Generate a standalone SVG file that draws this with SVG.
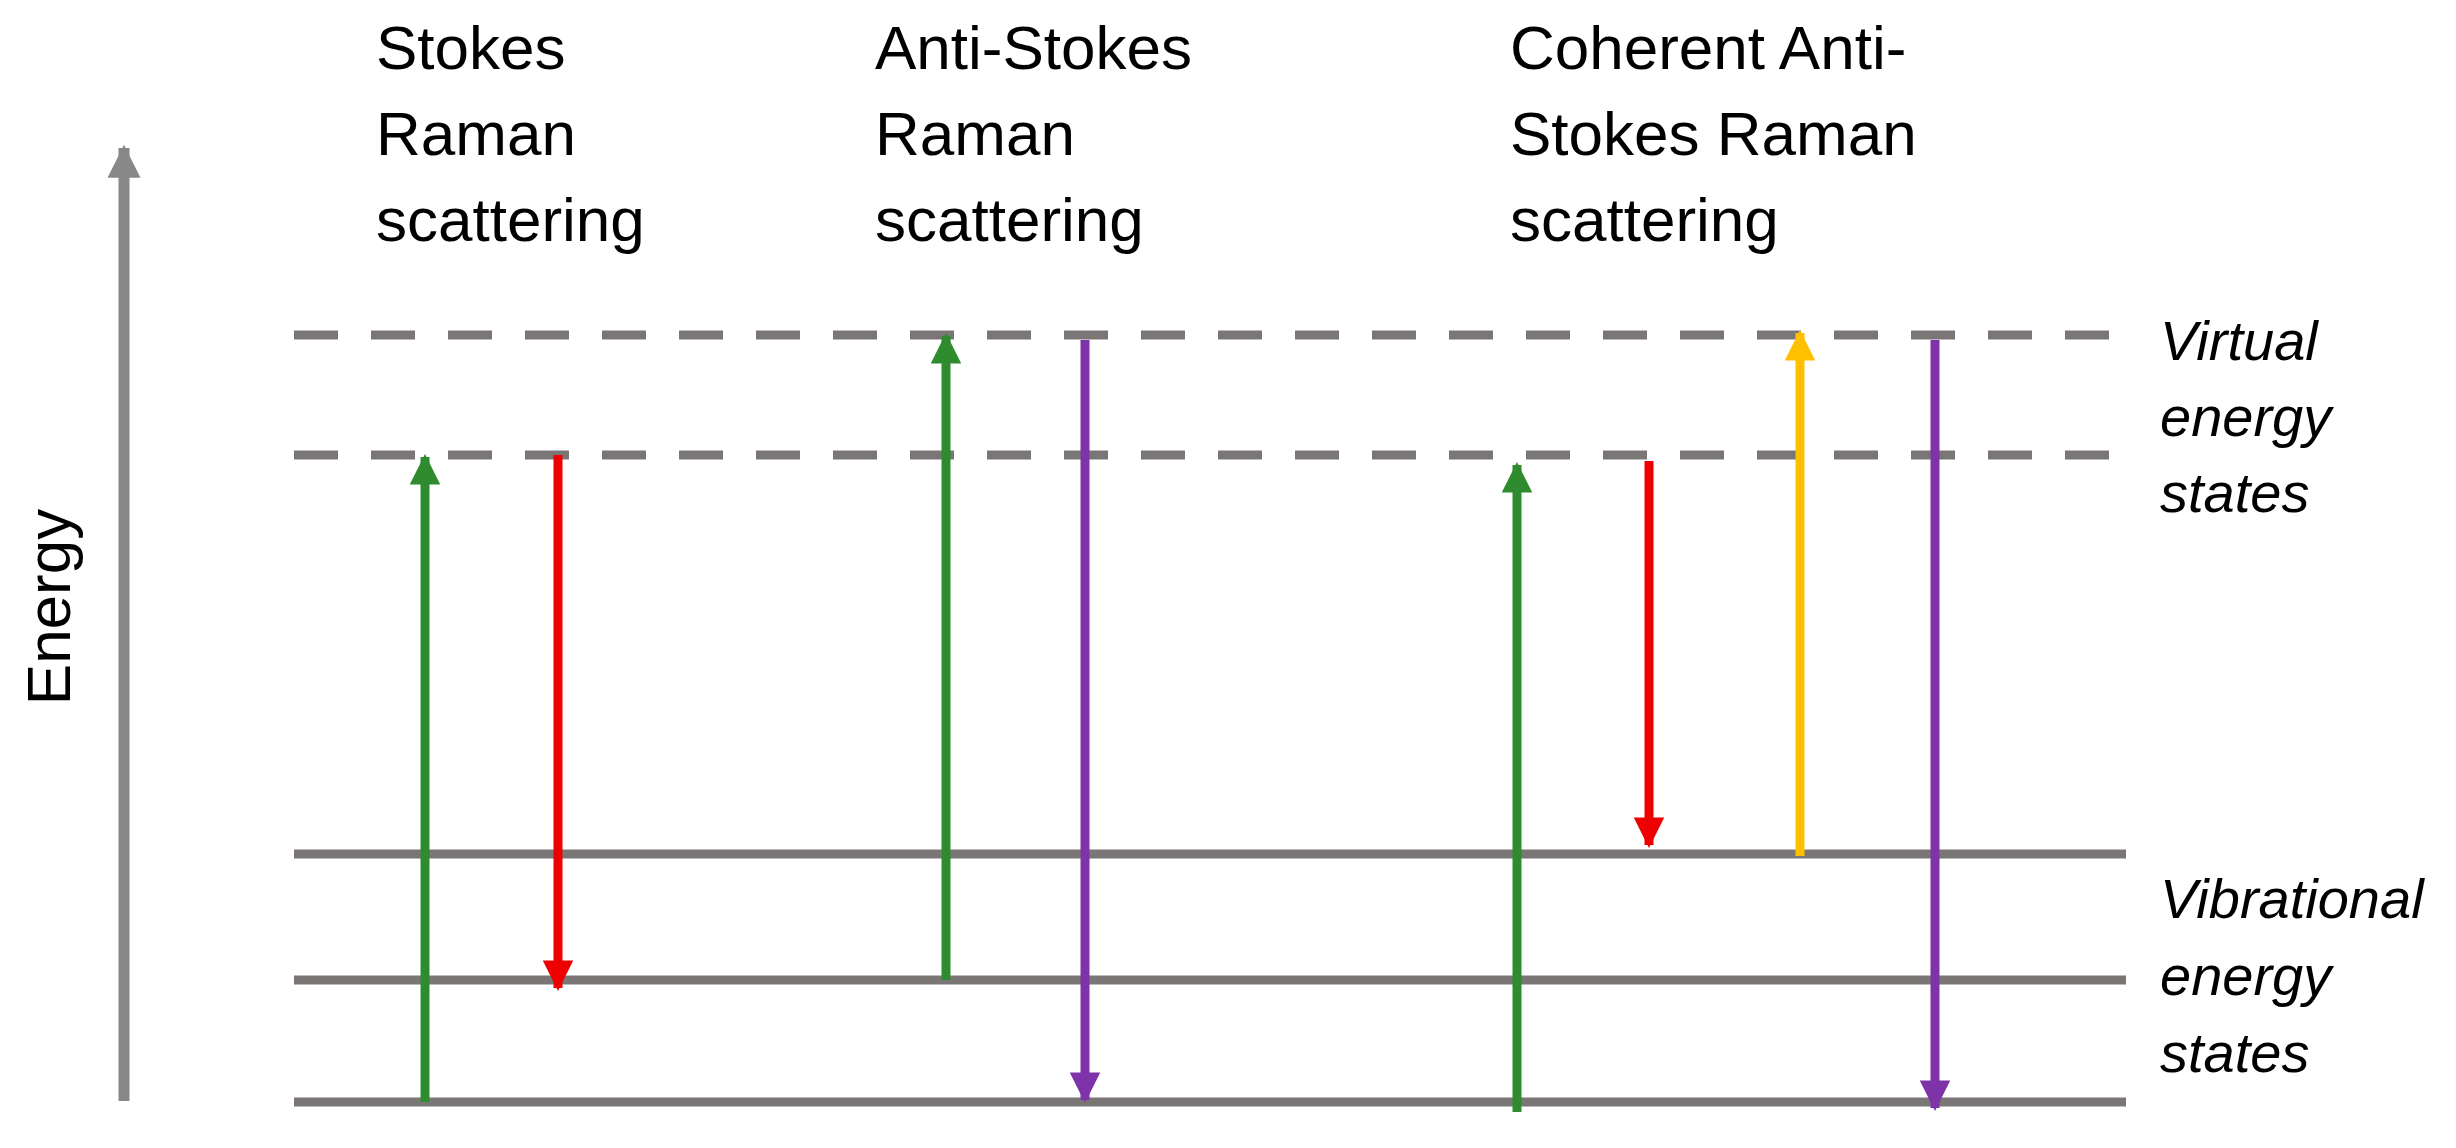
<svg xmlns="http://www.w3.org/2000/svg" width="2456" height="1148" viewBox="0 0 2456 1148">
<style>
.t{font-family:"Liberation Sans",Arial,sans-serif;font-size:62px;fill:#000}
.i{font-family:"Liberation Sans",Arial,sans-serif;font-size:56px;font-style:italic;fill:#000}
.lv{stroke:#7b7676;stroke-width:9;fill:none}
.dash{stroke-dasharray:44 33}
.a{stroke-width:9;fill:none}
</style>
<defs>
<marker id="mg" viewBox="0 0 10 10" refX="9" refY="5" markerWidth="3.4" markerHeight="3.4" orient="auto" markerUnits="strokeWidth"><path d="M0,0L10,5L0,10z" fill="#2e8b2e"/></marker>
<marker id="mr" viewBox="0 0 10 10" refX="9" refY="5" markerWidth="3.4" markerHeight="3.4" orient="auto" markerUnits="strokeWidth"><path d="M0,0L10,5L0,10z" fill="#ee0000"/></marker>
<marker id="mp" viewBox="0 0 10 10" refX="9" refY="5" markerWidth="3.4" markerHeight="3.4" orient="auto" markerUnits="strokeWidth"><path d="M0,0L10,5L0,10z" fill="#7f33a8"/></marker>
<marker id="my" viewBox="0 0 10 10" refX="9" refY="5" markerWidth="3.4" markerHeight="3.4" orient="auto" markerUnits="strokeWidth"><path d="M0,0L10,5L0,10z" fill="#ffc000"/></marker>
<marker id="max" viewBox="0 0 10 10" refX="9" refY="5" markerWidth="3" markerHeight="3" orient="auto" markerUnits="strokeWidth"><path d="M0,0L10,5L0,10z" fill="#888"/></marker>
</defs>
<rect width="2456" height="1148" fill="#fff"/>
<g id="axis">
<line x1="124" y1="1101" x2="124" y2="148" stroke="#888" stroke-width="11" marker-end="url(#max)"/>
<text class="t" transform="translate(70,607) rotate(-90)" text-anchor="middle" font-size="66">Energy</text>
</g>
<g id="levels">
<line class="lv dash" x1="294" y1="335" x2="2132" y2="335"/>
<line class="lv dash" x1="294" y1="455" x2="2132" y2="455"/>
<line class="lv" x1="294" y1="854" x2="2126" y2="854"/>
<line class="lv" x1="294" y1="980" x2="2126" y2="980"/>
<line class="lv" x1="294" y1="1102" x2="2126" y2="1102"/>
</g>
<g id="labels">
<text class="t" x="376" y="69">Stokes</text>
<text class="t" x="376" y="155">Raman</text>
<text class="t" x="376" y="241">scattering</text>
<text class="t" x="875" y="69">Anti-Stokes</text>
<text class="t" x="875" y="155">Raman</text>
<text class="t" x="875" y="241">scattering</text>
<text class="t" x="1510" y="69">Coherent Anti-</text>
<text class="t" x="1510" y="155">Stokes Raman</text>
<text class="t" x="1510" y="241">scattering</text>
<text class="i" x="2160" y="360">Virtual</text>
<text class="i" x="2160" y="436">energy</text>
<text class="i" x="2160" y="512">states</text>
<text class="i" x="2160" y="918">Vibrational</text>
<text class="i" x="2160" y="995">energy</text>
<text class="i" x="2160" y="1072">states</text>
</g>
<g id="connectors">
<line class="a" stroke="#2e8b2e" x1="425" y1="1102" x2="425" y2="457" marker-end="url(#mg)"/>
<line class="a" stroke="#ee0000" x1="558" y1="455" x2="558" y2="988" marker-end="url(#mr)"/>
<line class="a" stroke="#2e8b2e" x1="946" y1="980" x2="946" y2="336" marker-end="url(#mg)"/>
<line class="a" stroke="#7f33a8" x1="1085" y1="340" x2="1085" y2="1100" marker-end="url(#mp)"/>
<line class="a" stroke="#2e8b2e" x1="1517" y1="1112" x2="1517" y2="465" marker-end="url(#mg)"/>
<line class="a" stroke="#ee0000" x1="1649" y1="461" x2="1649" y2="845" marker-end="url(#mr)"/>
<line class="a" stroke="#ffc000" x1="1800" y1="856" x2="1800" y2="333" marker-end="url(#my)"/>
<line class="a" stroke="#7f33a8" x1="1935" y1="340" x2="1935" y2="1108" marker-end="url(#mp)"/>
</g>
</svg>
